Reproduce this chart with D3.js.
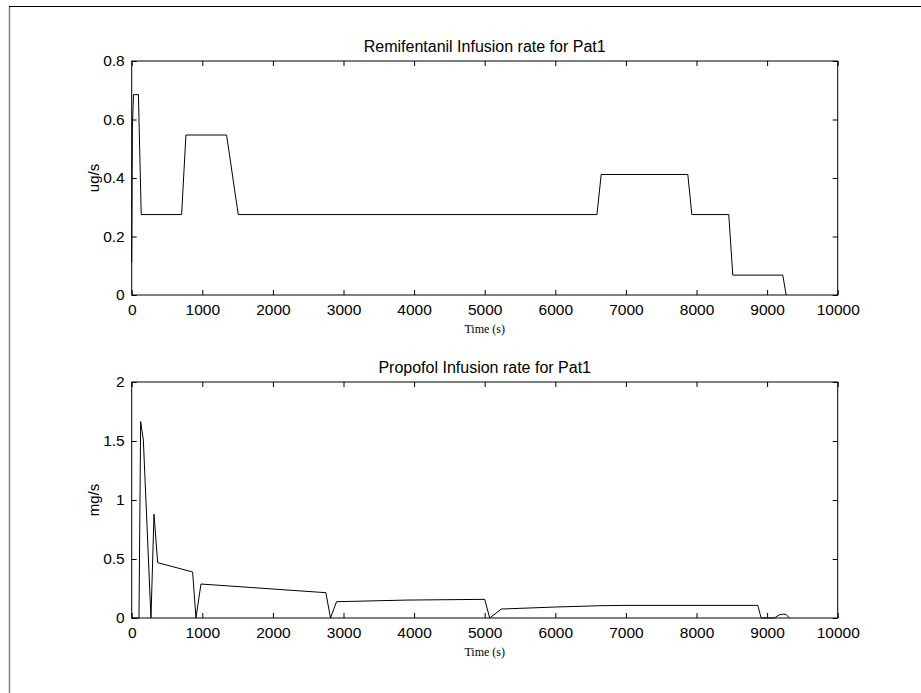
<!DOCTYPE html>
<html>
<head>
<meta charset="utf-8">
<script src="https://cdn.jsdelivr.net/npm/d3@7"></script>
<style>
  html, body { margin: 0; padding: 0; background: #fff; }
  svg { display: block; }
  .tick text { font-family: "Liberation Sans", Arial, sans-serif; font-size: 15.5px; fill: #000; }
  .domain { display: none; }
</style>
</head>
<body>
<svg id="chart" width="921" height="693"></svg>
<script>
// Remifentanil infusion rate (ug/s) over time (s)
const remiTime = [0, 10, 25, 95, 135, 707, 768, 1344, 1509, 6590, 6650, 7877, 7934, 8457, 8514, 9222, 9270];
const remiRate = [0.11, 0.57, 0.685, 0.685, 0.275, 0.275, 0.547, 0.547, 0.275, 0.275, 0.412, 0.412, 0.275, 0.275, 0.068, 0.068, 0];

// Propofol infusion rate (mg/s) over time (s)
const propTime = [0, 103, 127, 165, 273, 316, 368, 863, 910, 981, 2665, 2750, 2816, 2901, 3900, 5000, 5071, 5236, 6000, 6628, 7000, 8868, 8916, 9104, 9170, 9222, 9270, 9316];
const propRate = [0, 0, 1.664, 1.508, 0, 0.879, 0.469, 0.39, 0, 0.288, 0.218, 0.215, 0, 0.138, 0.152, 0.158, 0, 0.076, 0.093, 0.104, 0.107, 0.107, 0, 0, 0.026, 0.033, 0.03, 0];

// Axis tick values
const timeTicks = [0, 1000, 2000, 3000, 4000, 5000, 6000, 7000, 8000, 9000, 10000];
const remiTicks = [0, 0.2, 0.4, 0.6, 0.8];
const propTicks = [0, 0.5, 1, 1.5, 2];

const panels = [
  { title: "Remifentanil Infusion rate for Pat1", ylabel: "ug/s", time: remiTime, rate: remiRate,
    ymax: 0.8, yticks: remiTicks, top: 61, bottom: 295 },
  { title: "Propofol Infusion rate for Pat1", ylabel: "mg/s", time: propTime, rate: propRate,
    ymax: 2, yticks: propTicks, top: 382, bottom: 618 }
];

const svg = d3.select("#chart");

// Outer figure frame
svg.append("line").attr("x1", 9.5).attr("x2", 9.5).attr("y1", 6).attr("y2", 693)
  .attr("stroke", "#808080").attr("stroke-width", 1.5);
svg.append("line").attr("x1", 9).attr("x2", 921).attr("y1", 6.5).attr("y2", 6.5)
  .attr("stroke", "#000").attr("stroke-width", 1);

const left = 131.7, right = 837.7;
const fmtY = d => d === 0 ? "0" : String(d);

panels.forEach(p => {
  const x = d3.scaleLinear().domain([0, 10000]).range([left, right]);
  const y = d3.scaleLinear().domain([0, p.ymax]).range([p.bottom, p.top]);
  const g = svg.append("g");

  // Bottom axis with inward ticks
  g.append("g").attr("transform", `translate(0,${p.bottom})`)
    .call(d3.axisBottom(x).tickValues(timeTicks).tickSizeInner(-5).tickSizeOuter(0).tickPadding(9).tickFormat(d3.format("d")));
  // Top axis ticks (no labels)
  g.append("g").attr("transform", `translate(0,${p.top})`)
    .call(d3.axisTop(x).tickValues(timeTicks).tickSizeInner(-5).tickSizeOuter(0).tickFormat(""));
  // Left axis with inward ticks
  g.append("g").attr("transform", `translate(${left},0)`)
    .call(d3.axisLeft(y).tickValues(p.yticks).tickSizeInner(-5).tickSizeOuter(0).tickPadding(7).tickFormat(fmtY));
  // Right axis ticks (no labels)
  g.append("g").attr("transform", `translate(${right},0)`)
    .call(d3.axisRight(y).tickValues(p.yticks).tickSizeInner(-5).tickSizeOuter(0).tickFormat(""));

  g.selectAll(".tick line").attr("stroke", "#000");

  // Plot box
  g.append("rect").attr("x", left).attr("y", p.top)
    .attr("width", right - left).attr("height", p.bottom - p.top)
    .attr("fill", "none").attr("stroke", "#000").attr("stroke-width", 1);

  // Data line
  const pts = p.time.map((t, i) => [t, p.rate[i]]);
  g.append("path").datum(pts)
    .attr("d", d3.line().x(d => x(d[0])).y(d => y(d[1])))
    .attr("fill", "none").attr("stroke", "#000").attr("stroke-width", 1);

  // Title
  g.append("text").attr("x", (left + right) / 2).attr("y", p.top - 9)
    .attr("text-anchor", "middle")
    .style("font-family", "'Liberation Sans', Arial, sans-serif").style("font-size", "16px")
    .text(p.title);

  // X label
  g.append("text").attr("x", (left + right) / 2).attr("y", p.bottom + 38)
    .attr("text-anchor", "middle")
    .style("font-family", "'Liberation Serif', 'Times New Roman', serif").style("font-size", "12px")
    .text("Time (s)");

  // Y label
  g.append("text")
    .attr("transform", `translate(${left - 33},${(p.top + p.bottom) / 2}) rotate(-90)`)
    .attr("text-anchor", "middle")
    .style("font-family", "'Liberation Sans', Arial, sans-serif").style("font-size", "15px")
    .text(p.ylabel);
});
</script>
</body>
</html>
